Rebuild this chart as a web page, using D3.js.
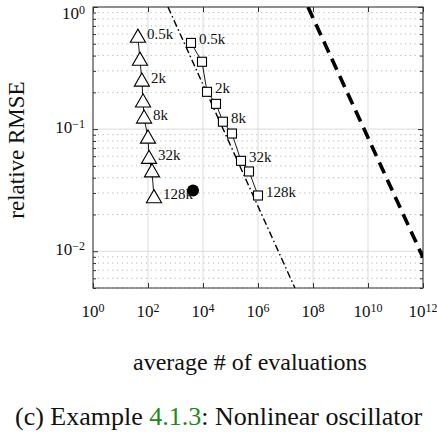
<!DOCTYPE html>
<html>
<head>
<meta charset="utf-8">
<script src="https://cdn.jsdelivr.net/npm/d3@7"></script>
<style>
  body { margin: 0; background: #fff; }
  text { font-family: "Liberation Serif", "Times New Roman", serif; fill: #111; }
</style>
</head>
<body>
<div id="chart"></div>
<script>
// values
var sampleLabels = ["0.5k", "", "2k", "", "8k", "", "32k", "", "128k"];

var triEvals = [43, 51, 60, 66, 72, 100, 109, 140, 165];
var triRmse  = [0.569, 0.369, 0.249, 0.168, 0.124, 0.085, 0.058, 0.045, 0.0276];

var sqEvals = [3660, 9200, 14000, 29700, 53000, 113000, 241000, 471000, 1000000];
var sqRmse  = [0.508, 0.356, 0.202, 0.161, 0.115, 0.092, 0.055, 0.045, 0.0286];

var dotEvals = [4330];
var dotRmse  = [0.0315];

// reference rate lines (end points)
var rateAEvals = [533, 2.2e7];
var rateARmse  = [1, 0.005];
var rateBEvals = [6.58e7, 1e12];
var rateBRmse  = [1, 0.0089];

var xTickExp = [0, 2, 4, 6, 8, 10, 12];
var yTickExp = [0, -1, -2];

var W = 437, H = 434;
var margin = {top: 7, left: 93, right: 14, bottom: 146};
var pw = W - margin.left - margin.right;
var ph = H - margin.top - margin.bottom;

var svg = d3.select("#chart").append("svg")
    .attr("width", W)
    .attr("height", H);

var x = d3.scaleLog().domain([1, 1e12]).range([0, pw]);
var y = d3.scaleLog().domain([0.005, 1]).range([ph, 0]);

var g = svg.append("g")
    .attr("transform", "translate(" + margin.left + "," + margin.top + ")");

g.append("clipPath").attr("id", "clip")
  .append("rect").attr("width", pw).attr("height", ph);

// minor y values 2..9 for each decade
var yMinor = [];
[-3, -2, -1].forEach(function(e){
  for (var k = 2; k <= 9; k++){
    var v = k * Math.pow(10, e);
    if (v >= 0.005 && v < 1) yMinor.push(v);
  }
});

// minor grid (dotted)
g.append("g").selectAll("line").data(yMinor).enter().append("line")
    .attr("x1", 0).attr("x2", pw)
    .attr("y1", function(d){ return y(d); })
    .attr("y2", function(d){ return y(d); })
    .attr("stroke", "#b8b8b8")
    .attr("stroke-width", 1)
    .attr("stroke-dasharray", "1.2,3.6");

// major grid
g.append("g").selectAll("line").data(xTickExp).enter().append("line")
    .attr("x1", function(d){ return x(Math.pow(10, d)); })
    .attr("x2", function(d){ return x(Math.pow(10, d)); })
    .attr("y1", 0).attr("y2", ph)
    .attr("stroke", "#dcdcdc").attr("stroke-width", 1);
g.append("g").selectAll("line").data(yTickExp).enter().append("line")
    .attr("x1", 0).attr("x2", pw)
    .attr("y1", function(d){ return y(Math.pow(10, d)); })
    .attr("y2", function(d){ return y(Math.pow(10, d)); })
    .attr("stroke", "#dcdcdc").attr("stroke-width", 1);

// axes: ticks drawn inward on all four sides
var xVals = xTickExp.map(function(e){ return Math.pow(10, e); });
var yVals = yTickExp.map(function(e){ return Math.pow(10, e); });

function styleAxis(sel){
  sel.select(".domain").remove();
  sel.selectAll("line").attr("stroke", "#333");
  sel.selectAll("text").remove();
}

g.append("g").attr("transform", "translate(0," + ph + ")")
    .call(d3.axisBottom(x).tickValues(xVals).tickSize(-5)).call(styleAxis);
g.append("g")
    .call(d3.axisTop(x).tickValues(xVals).tickSize(-5)).call(styleAxis);
g.append("g")
    .call(d3.axisLeft(y).tickValues(yVals).tickSize(-5)).call(styleAxis);
g.append("g")
    .call(d3.axisLeft(y).tickValues(yMinor).tickSize(-3)).call(styleAxis);
g.append("g").attr("transform", "translate(" + pw + ",0)")
    .call(d3.axisRight(y).tickValues(yVals).tickSize(-5)).call(styleAxis);
g.append("g").attr("transform", "translate(" + pw + ",0)")
    .call(d3.axisRight(y).tickValues(yMinor).tickSize(-3)).call(styleAxis);

g.append("rect")
    .attr("width", pw).attr("height", ph)
    .attr("fill", "none").attr("stroke", "#333").attr("stroke-width", 1);

// tick labels with superscripts
var xl = g.append("g").selectAll("text").data(xTickExp).enter().append("text")
    .attr("x", function(d){ return x(Math.pow(10, d)); })
    .attr("y", ph + 29)
    .attr("text-anchor", "middle")
    .style("font-size", "17px");
xl.append("tspan").text("10");
xl.append("tspan").attr("dy", "-0.45em").style("font-size", "12px")
    .text(function(d){ return d; });

var yl = g.append("g").selectAll("text").data(yTickExp).enter().append("text")
    .attr("x", -8)
    .attr("y", function(d){ return y(Math.pow(10, d)) + (d === 0 ? 12 : 4); })
    .attr("text-anchor", "end")
    .style("font-size", "17px");
yl.append("tspan").text("10");
yl.append("tspan").attr("dy", "-0.45em").style("font-size", "12px")
    .text(function(d){ return d === 0 ? "0" : "\u2212" + (-d); });

// plot content
var plot = g.append("g").attr("clip-path", "url(#clip)");
var line = d3.line()
    .x(function(d){ return x(d[0]); })
    .y(function(d){ return y(d[1]); });

plot.append("path")
    .datum(d3.zip(rateAEvals, rateARmse))
    .attr("d", line)
    .attr("fill", "none").attr("stroke", "#000")
    .attr("stroke-width", 1.4)
    .attr("stroke-dasharray", "7,3,1.5,3");

plot.append("path")
    .datum(d3.zip(rateBEvals, rateBRmse))
    .attr("d", line)
    .attr("fill", "none").attr("stroke", "#000")
    .attr("stroke-width", 3.6)
    .attr("stroke-dasharray", "12,7");

var tri = d3.zip(triEvals, triRmse);
var sq = d3.zip(sqEvals, sqRmse);

plot.append("path").datum(tri).attr("d", line)
    .attr("fill", "none").attr("stroke", "#000").attr("stroke-width", 0.9);
plot.append("path").datum(sq).attr("d", line)
    .attr("fill", "none").attr("stroke", "#000").attr("stroke-width", 0.9);

var triSym = d3.symbol().type(d3.symbolTriangle).size(100);
plot.selectAll(".tri").data(tri).enter().append("path")
    .attr("class", "tri")
    .attr("d", triSym)
    .attr("transform", function(d){ return "translate(" + x(d[0]) + "," + (y(d[1]) + 1) + ")"; })
    .attr("fill", "#fff").attr("stroke", "#000").attr("stroke-width", 1.1);

plot.selectAll(".sq").data(sq).enter().append("rect")
    .attr("class", "sq")
    .attr("x", function(d){ return x(d[0]) - 4.5; })
    .attr("y", function(d){ return y(d[1]) - 4.5; })
    .attr("width", 9).attr("height", 9)
    .attr("fill", "#fff").attr("stroke", "#000").attr("stroke-width", 1.1);

plot.selectAll(".dot").data(d3.zip(dotEvals, dotRmse)).enter().append("circle")
    .attr("cx", function(d){ return x(d[0]); })
    .attr("cy", function(d){ return y(d[1]); })
    .attr("r", 6).attr("fill", "#000");

// sample size labels
g.selectAll(".tlab").data(tri).enter().append("text")
    .attr("x", function(d){ return x(d[0]) + 9; })
    .attr("y", function(d){ return y(d[1]) + 2; })
    .style("font-size", "15px")
    .text(function(d, i){ return sampleLabels[i]; });

g.selectAll(".slab").data(sq).enter().append("text")
    .attr("x", function(d){ return x(d[0]) + 8; })
    .attr("y", function(d){ return y(d[1]) + 1; })
    .style("font-size", "15px")
    .text(function(d, i){ return sampleLabels[i]; });

// axis titles
svg.append("text")
    .attr("transform", "translate(24," + (margin.top + 143) + ") rotate(-90)")
    .attr("text-anchor", "middle")
    .style("font-size", "23px")
    .text("relative RMSE");

svg.append("text")
    .attr("x", 250).attr("y", 370)
    .attr("text-anchor", "middle")
    .style("font-size", "24px")
    .text("average # of evaluations");

var cap = svg.append("text")
    .attr("x", 15).attr("y", 425)
    .style("font-size", "26px");
cap.append("tspan").text("(c) Example ");
cap.append("tspan").style("fill", "#1a8a1a").text("4.1.3");
cap.append("tspan").text(": Nonlinear oscillator");
</script>
</body>
</html>
